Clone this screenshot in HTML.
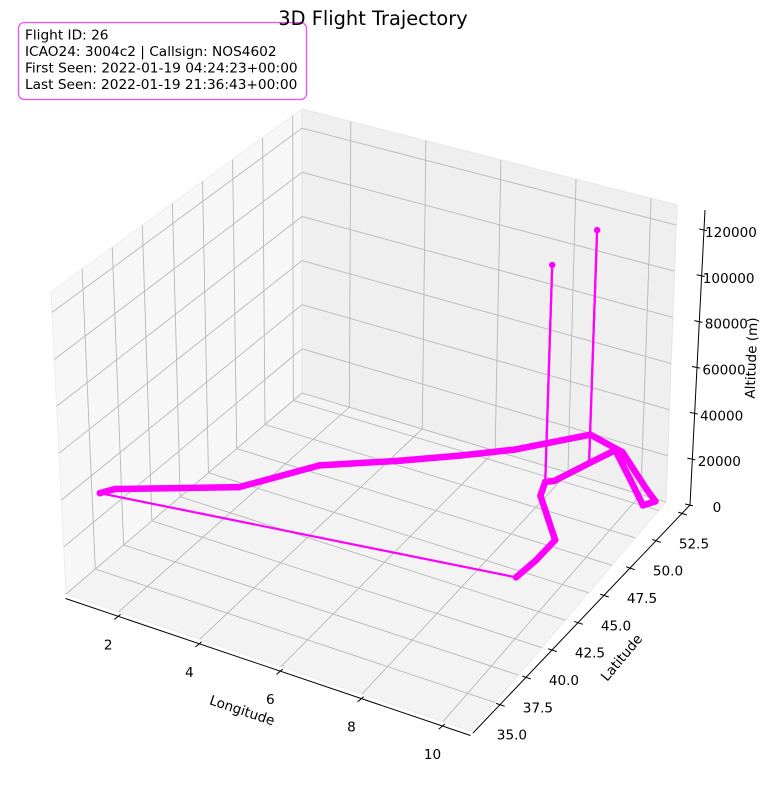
<!DOCTYPE html>
<html>
<head>
<meta charset="utf-8">
<style>
  html,body{margin:0;padding:0;background:#fff;}
  svg{display:block;font-family:"DejaVu Sans","Liberation Sans",sans-serif;}
</style>
</head>
<body>
<svg id="chart" width="766" height="790" viewBox="0 0 766 790" xmlns="http://www.w3.org/2000/svg">
  <g id="panes"></g>
  <g id="grid"></g>
  <g id="axes"></g>
  <g id="track"></g>
  <g>
    <rect x="18.5" y="22.5" width="288" height="77" rx="6" ry="6" fill="#fff" stroke="#f050f0" stroke-width="1.3"/>
    <text font-size="13.7" fill="#000">
      <tspan x="25" y="39.5">Flight ID: 26</tspan>
      <tspan x="25" y="56">ICAO24: 3004c2 | Callsign: NOS4602</tspan>
      <tspan x="25" y="72.5">First Seen: 2022-01-19 04:24:23+00:00</tspan>
      <tspan x="25" y="89">Last Seen: 2022-01-19 21:36:43+00:00</tspan>
    </text>
  </g>
  <text x="373" y="25" font-size="19.4" text-anchor="middle" fill="#000">3D Flight Trajectory</text>
</svg>
<script>
// ---- data ----
const lonValues = [0.73, 0.91, 3.13, 4.20, 5.69, 6.79, 7.77, 9.06, 10.08, 11.25, 11.67, 11.48, 10.73, 9.89, 9.58, 9.58, 9.58, 9.19, 9.02, 9.02, 9.02, 9.18, 10.28, 10.25, 10.15, 0.73];
const latValues = [35.56, 36.24, 39.38, 42.92, 45.16, 46.92, 48.57, 51.35, 50.75, 48.58, 47.85, 47.28, 48.94, 50.74, 49.20, 49.20, 49.20, 47.12, 46.84, 46.84, 46.84, 45.71, 42.78, 40.84, 39.16, 35.56];
const altValues = [30500, 30500, 30500, 30500, 30500, 30500, 30500, 30500, 30500, 30500, 30500, 30500, 30500, 30500, 30500, 131000, 30500, 30500, 30500, 123700, 30500, 30500, 30500, 30500, 30500, 30500];
const lonTicks = [2, 4, 6, 8, 10];
const latTicks = [35.0, 37.5, 40.0, 42.5, 45.0, 47.5, 50.0, 52.5];
const altTicks = [0, 20000, 40000, 60000, 80000, 100000, 120000];

// ---- axis scales ----
const LONMIN = 0.70, LONMAX = 10.69;
const LATMIN = 32.41, LATMAX = 53.27;
const ZMIN = 0, ZMAX = 128700;
const FA = [66, 594], FB = [471, 731], FC = [666, 502], FD = [302, 393];
const VA = [-15, -302], VB = [16, -312], VC = [11, -297], VD = [0, -284];

function bil(p00, p10, p11, p01, a, b) {
  return [
    p00[0]*(1-a)*(1-b) + p10[0]*a*(1-b) + p11[0]*a*b + p01[0]*(1-a)*b,
    p00[1]*(1-a)*(1-b) + p10[1]*a*(1-b) + p11[1]*a*b + p01[1]*(1-a)*b
  ];
}
function ax(lon) { return (lon - LONMIN) / (LONMAX - LONMIN); }
function by(lat) { return (lat - LATMIN) / (LATMAX - LATMIN); }
function tz(alt) { return (alt - ZMIN) / (ZMAX - ZMIN); }
function proj(lon, lat, alt) {
  const a = ax(lon), b = by(lat), t = tz(alt);
  const p = bil(FA, FB, FC, FD, a, b);
  const v = bil(VA, VB, VC, VD, a, b);
  return [p[0] + v[0]*t, p[1] + v[1]*t];
}

const NS = 'http://www.w3.org/2000/svg';
function mk(tag, parent, attrs) {
  const el = document.createElementNS(NS, tag);
  for (const k in attrs) el.setAttribute(k, attrs[k]);
  parent.appendChild(el);
  return el;
}
function pts(arr) { return arr.map(p => p[0].toFixed(1) + ',' + p[1].toFixed(1)).join(' '); }

// ---- panes ----
const panes = document.getElementById('panes');
let el;
el = mk('polygon', panes, {points: pts([proj(LONMIN,LATMIN,ZMIN), proj(LONMAX,LATMIN,ZMIN), proj(LONMAX,LATMAX,ZMIN), proj(LONMIN,LATMAX,ZMIN)]), fill: '#f3f3f3', stroke: '#ebebeb'});


el = mk('polygon', panes, {points: pts([proj(LONMIN,LATMIN,ZMIN), proj(LONMIN,LATMAX,ZMIN), proj(LONMIN,LATMAX,ZMAX), proj(LONMIN,LATMIN,ZMAX)]), fill: '#f7f7f7', stroke: '#ededed'});


el = mk('polygon', panes, {points: pts([proj(LONMIN,LATMAX,ZMIN), proj(LONMAX,LATMAX,ZMIN), proj(LONMAX,LATMAX,ZMAX), proj(LONMIN,LATMAX,ZMAX)]), fill: '#efefef', stroke: '#e6e6e6'});



// ---- grid ----
const grid = document.getElementById('grid');
function gline(p, q, name) {
  const l = mk('line', grid, {x1: p[0], y1: p[1], x2: q[0], y2: q[1], stroke: '#b8b8b8', 'stroke-width': 0.9});
  
  
}
lonTicks.forEach(v => {
  gline(proj(v, LATMIN, ZMIN), proj(v, LATMAX, ZMIN), 'floor-grid-lon');
  gline(proj(v, LATMAX, ZMIN), proj(v, LATMAX, ZMAX), 'back-grid-lon');
});
latTicks.forEach(v => {
  gline(proj(LONMIN, v, ZMIN), proj(LONMAX, v, ZMIN), 'floor-grid-lat');
  gline(proj(LONMIN, v, ZMIN), proj(LONMIN, v, ZMAX), 'left-grid-lat');
});
altTicks.forEach(v => {
  gline(proj(LONMIN, LATMIN, v), proj(LONMIN, LATMAX, v), 'left-grid-alt');
  gline(proj(LONMIN, LATMAX, v), proj(LONMAX, LATMAX, v), 'back-grid-alt');
});

// ---- axes ----
const axes = document.getElementById('axes');
function lonAxisPt(lon) { const p = proj(lon, LATMIN, ZMIN); return [p[0] - 0.5, p[1] + 4.5]; }
const LAT0 = [473, 733], LAT1 = [690, 505];
function latAxisPt(lat) { const b = by(lat); return [LAT0[0] + (LAT1[0]-LAT0[0])*b, LAT0[1] + (LAT1[1]-LAT0[1])*b]; }
const ALT0 = [690, 505], ALT1 = [705, 210];
function altAxisPt(alt) { const t = tz(alt); return [ALT0[0] + (ALT1[0]-ALT0[0])*t, ALT0[1] + (ALT1[1]-ALT0[1])*t]; }

function aline(p, q, name) {
  const l = mk('line', axes, {x1: p[0], y1: p[1], x2: q[0], y2: q[1], stroke: '#000', 'stroke-width': 1});
  
  
}
function atext(x, y, s, name, extra) {
  const t = mk('text', axes, Object.assign({x: x, y: y, 'font-size': 13.6, 'text-anchor': 'middle', 'dominant-baseline': 'middle', fill: '#000'}, extra || {}));
  t.textContent = s;
  
  
  return t;
}
aline(lonAxisPt(LONMIN), lonAxisPt(LONMAX), 'x-axis-line');
aline(latAxisPt(LATMIN), latAxisPt(LATMAX), 'y-axis-line');
aline(altAxisPt(ZMIN), altAxisPt(ZMAX), 'z-axis-line');

lonTicks.forEach(v => {
  const p = lonAxisPt(v);
  aline([p[0] + 2.3, p[1] - 2], [p[0] - 3.8, p[1] + 3.2], 'x-tick');
  atext(p[0] - 10, p[1] + 29, String(v), 'x-tick-label');
});
latTicks.forEach(v => {
  const p = latAxisPt(v);
  aline([p[0] - 3.8, p[1] - 1.3], [p[0] + 4.8, p[1] + 1.6], 'y-tick');
  atext(p[0] + 12, p[1] + 31, v.toFixed(1), 'y-tick-label');
});
altTicks.forEach(v => {
  const p = altAxisPt(v);
  aline([p[0] - 5, p[1] - 1], [p[0] + 3, p[1] + 0.7], 'z-tick');
  atext(p[0] + 27, p[1] + 3, String(v), 'z-tick-label');
});
atext(242, 711, 'Longitude', 'x-axis-title', {transform: 'rotate(18.6 242 711)'});
atext(622, 658, 'Latitude', 'y-axis-title', {transform: 'rotate(-50 622 658)'});
atext(752, 358, 'Altitude (m)', 'z-axis-title', {transform: 'rotate(-88 752 358)'});

// ---- track ----
const track = document.getElementById('track');
const P = lonValues.map((v, i) => proj(v, latValues[i], altValues[i]));
for (let i = 0; i < P.length - 1; i++) {
  const dl = Math.hypot(lonValues[i+1] - lonValues[i], latValues[i+1] - latValues[i]);
  const dz = Math.abs(altValues[i+1] - altValues[i]);
  const dense = dl < 5 && dz < 5000;
  const seg = mk('line', track, {x1: P[i][0], y1: P[i][1], x2: P[i+1][0], y2: P[i+1][1], stroke: '#ff00ff', 'stroke-width': dense ? 6.5 : 2.2, 'stroke-linecap': 'round'});
  
  
}
P.forEach((p, i) => {
  const c = mk('circle', track, {cx: p[0], cy: p[1], r: 3.2, fill: '#ff00ff'});
  
  
});
</script>
</body>
</html>
